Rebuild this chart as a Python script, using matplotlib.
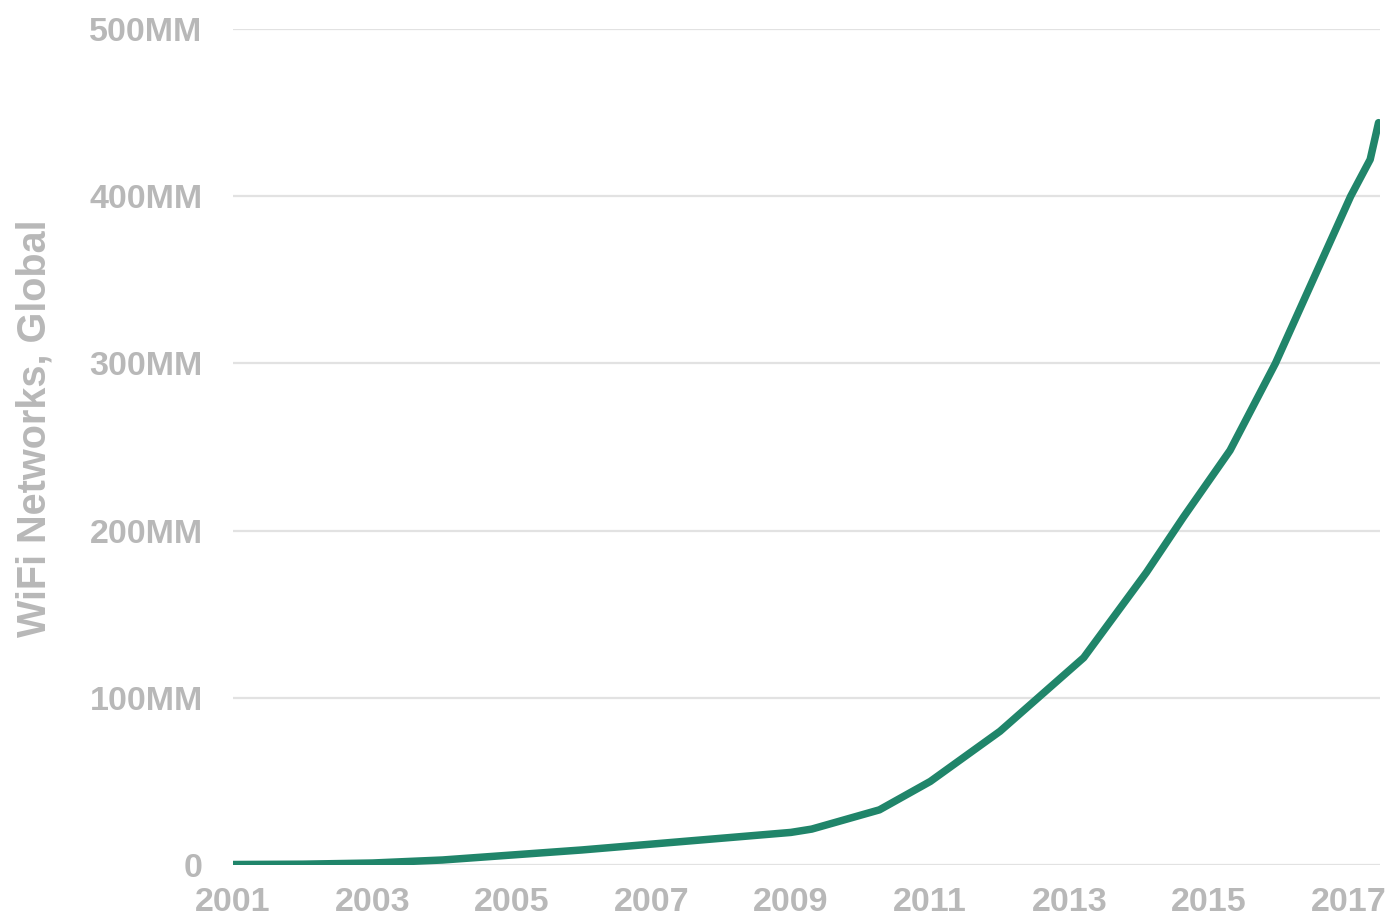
import matplotlib
matplotlib.use('Agg')
import matplotlib.pyplot as plt

# WiFi networks, global (millions)
years = [2001.0, 2002.0, 2003.0, 2004.0, 2005.0, 2006.0, 2007.0, 2008.0, 2009.0,
         2009.3, 2010.27, 2011.0, 2012.0, 2013.2, 2014.1, 2014.63, 2015.3,
         2015.95, 2017.03, 2017.31, 2017.43]
networks = [0.3, 0.5, 1.2, 3.0, 6.0, 9.0, 12.5, 16.0, 19.5,
            21.5, 33.0, 50.0, 80.0, 124.0, 175.0, 208.0, 248.0,
            300.0, 400.0, 422.0, 444.0]

y_ticks = [0, 100, 200, 300, 400, 500]
y_labels = ['0', '100MM', '200MM', '300MM', '400MM', '500MM']
x_ticks = [2001, 2003, 2005, 2007, 2009, 2011, 2013, 2015, 2017]

plt.rcParams['font.family'] = ['Liberation Sans', 'DejaVu Sans']

text_grey = '#b8b8b8'
line_green = '#20856a'

fig = plt.figure(figsize=(13.88, 9.22), dpi=100)
ax = fig.add_axes([0.168, 0.0618, 0.8262, 0.9067])

ax.plot(years, networks, color=line_green, linewidth=5.4,
        solid_capstyle='round', solid_joinstyle='round', zorder=3)

ax.set_xlim(2001, 2017.45)
ax.set_ylim(0, 500)
ax.set_yticks(y_ticks)
ax.set_yticklabels(y_labels)
ax.set_xticks(x_ticks)
ax.set_xticklabels([str(x) for x in x_ticks])

ax.grid(axis='y', color='#e2e2e2', linewidth=1.6, zorder=0)
ax.grid(axis='x', visible=False)
for s in ax.spines.values():
    s.set_visible(False)

ax.tick_params(axis='both', length=0, labelsize=24.5, labelcolor=text_grey)
ax.tick_params(axis='y', pad=22)
ax.tick_params(axis='x', pad=16)
for lbl in ax.get_xticklabels() + ax.get_yticklabels():
    lbl.set_fontweight('bold')

ax.set_ylabel('WiFi Networks, Global', fontsize=28.5, color=text_grey,
              fontweight='bold')
ax.yaxis.set_label_coords(-0.157, 0.523)

fig.savefig('out.png', dpi=100, facecolor='white')
